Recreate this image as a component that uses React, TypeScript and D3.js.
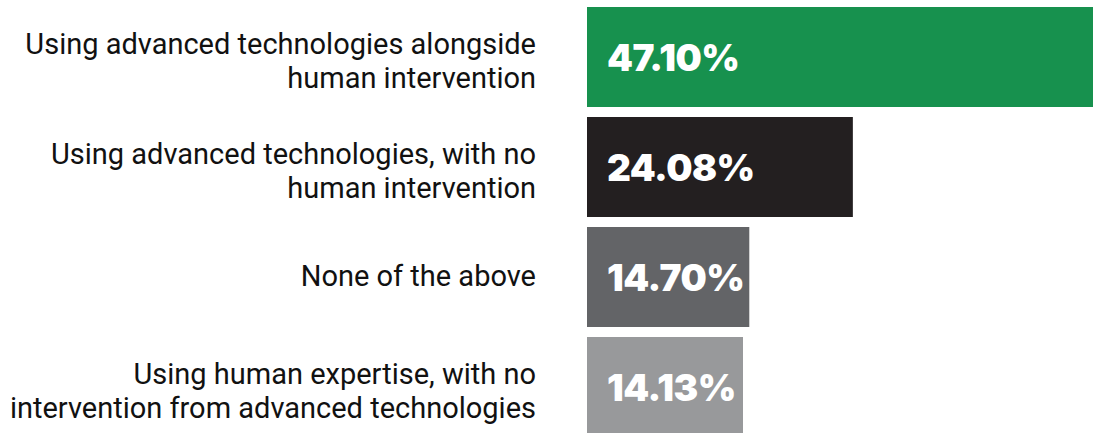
import * as d3 from "d3";
import React, { useEffect, useRef } from "react";

// survey answers, top to bottom (\n = line break in the label)
const categories = [
  "Using advanced technologies alongside\nhuman intervention",
  "Using advanced technologies, with no\nhuman intervention",
  "None of the above",
  "Using human expertise, with no\nintervention from advanced technologies",
];
const shares = [47.1, 24.08, 14.7, 14.13];
const valueLabels = ["47.10%", "24.08%", "14.70%", "14.13%"];
const barColors = ["#17914e", "#231f20", "#636467", "#98999b"];

const App = () => {
  const svgRef = useRef<SVGSVGElement>(null);

  useEffect(() => {
    const svg = d3.select(svgRef.current);
    svg.selectAll("*").remove();

    const barLeft = 587;
    const labelRight = 536;
    const lineHeight = 34;

    const xScale = d3.scaleLinear().domain([0, 47.1]).range([0, 520]);

    const yScale = d3
      .scaleBand()
      .domain(categories)
      .range([7, 437])
      .paddingInner(10 / 110)
      .paddingOuter(0);

    const rows = categories.map((c, i) => ({
      cat: c,
      value: shares[i],
      text: valueLabels[i],
      color: barColors[i],
    }));

    // bars
    svg
      .selectAll(".bar")
      .data(rows)
      .enter()
      .append("rect")
      .attr("class", "bar")
      .attr("x", barLeft)
      .attr("y", (d) => yScale(d.cat))
      .attr("width", (d) => xScale(d.value))
      .attr("height", yScale.bandwidth())
      .attr("fill", (d) => d.color);

    // value labels inside bars
    svg
      .selectAll(".val")
      .data(rows)
      .enter()
      .append("text")
      .attr("class", "val")
      .attr("x", barLeft + 20)
      .attr("y", (d) => yScale(d.cat) + yScale.bandwidth() / 2 + 14)
      .attr("fill", "#fff")
      .style("font-family", "Inter, Roboto, sans-serif")
      .style("font-weight", 900)
      .style("font-size", "37px")
      .style("letter-spacing", "-0.5px")
      .text((d) => d.text);

    // category labels, right aligned
    rows.forEach((d) => {
      const lines = d.cat.split("\n");
      const mid = yScale(d.cat) + yScale.bandwidth() / 2;
      const first = mid - ((lines.length - 1) * lineHeight) / 2 + (lines.length > 1 ? 14 : 9);
      const t = svg
        .append("text")
        .attr("text-anchor", "end")
        .attr("fill", "#111")
        .style("font-family", "Roboto, sans-serif")
        .style("font-size", "29px");
      lines.forEach((ln, j) => {
        t.append("tspan")
          .attr("x", labelRight)
          .attr("y", first + j * lineHeight)
          .text(ln);
      });
    });
  }, []);

  return (
    <svg
      ref={svgRef}
      width="1093"
      height="433"
      style={{ position: "absolute", left: 0, top: 0, background: "#fff" }}
    ></svg>
  );
};

export default App;
